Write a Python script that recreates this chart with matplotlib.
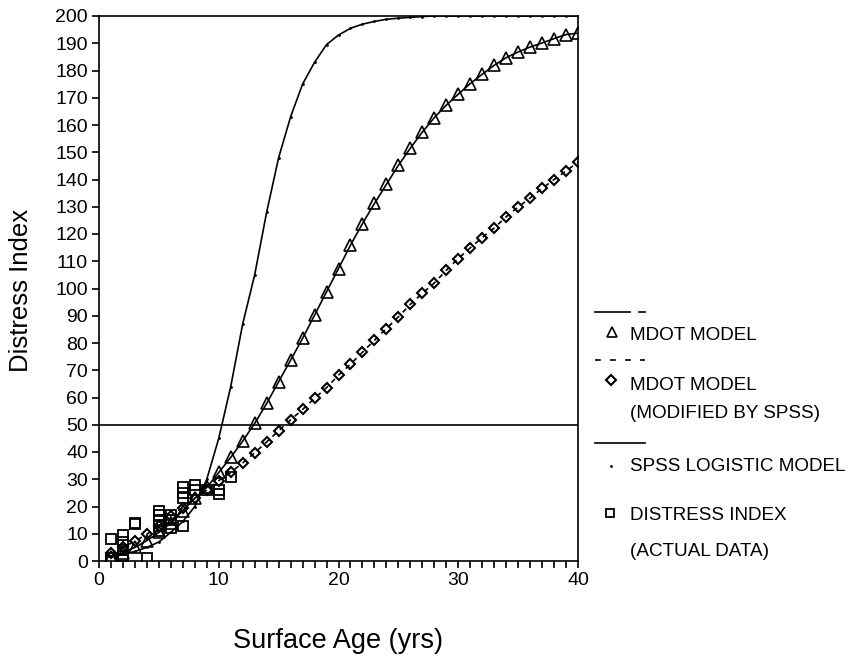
import numpy as np
import matplotlib.pyplot as plt
from matplotlib.lines import Line2D

plt.rcParams['font.family'] = ['Liberation Sans', 'DejaVu Sans']

# surface age (yrs)
age = list(range(1, 41))

# MDOT model (triangles)
mdot = [1.5, 3, 5, 7.5, 10.5, 14, 18.5, 23, 27, 32.5,
        38, 44, 50.5, 57.8, 65.8, 73.7, 81.7, 90.2, 98.8, 107.3,
        115.9, 123.8, 131.2, 138.2, 145.2, 151.5, 157.4, 162.7, 167.3, 171.3,
        175.2, 178.6, 181.9, 184.7, 186.8, 188.6, 190.1, 191.7, 193.2, 193.7]

# MDOT model modified by SPSS (diamonds)
mdot_spss = [2.8, 5, 7.3, 9.8, 13, 16.5, 19.5, 23, 26, 29.5,
             32.5, 36, 39.7, 43.7, 47.8, 51.8, 55.6, 59.7, 63.6, 68.2,
             72.2, 76.6, 81, 85.3, 89.6, 94.2, 98.2, 102, 106.7, 111,
             114.9, 118.7, 122.2, 126.3, 129.9, 133.2, 136.7, 140, 143.1, 146.4]

# SPSS logistic model
logistic = [1.8, 2.5, 3.5, 5, 7, 10.5, 14.5, 20, 30, 45,
            64, 87, 105, 128, 148, 163, 175, 183, 189.5, 193,
            195.5, 197, 198, 198.8, 199.2, 199.5, 199.8, 200, 200, 200,
            200, 200, 200, 200, 200, 200, 200, 200, 200, 200]

# actual distress index data
obs_age = [1, 1, 1, 2, 2, 2, 2, 2, 3, 3, 4, 5, 5, 5, 5, 5, 6, 6, 6,
           7, 7, 7, 7, 8, 8, 9, 10, 10, 11]
obs_di = [8, 1, 0, 9.5, 7, 4, 2, 0.5, 13.5, 14, 1, 18.5, 17, 15, 13, 11, 17, 15, 12,
          27, 25, 23, 13, 28, 26, 26, 26, 24.5, 31]

fig = plt.figure(figsize=(8.58, 6.6), dpi=100)
ax = fig.add_axes([99/858, 1-561/660, 479/858, 545/660])

ax.plot(age, logistic, '-', color='black', lw=1.2, marker='.', ms=2)
ax.plot(age, mdot, '-', color='black', lw=1.2, marker='^', ms=8,
        mfc='none', mec='black', mew=1.2)
ax.plot(age, mdot_spss, '--', color='black', lw=1.2, dashes=(3, 3), marker='D', ms=5.5,
        mfc='none', mec='black', mew=1.5)
ax.plot(obs_age, obs_di, 's', ms=6.5, mfc='none', mec='black', mew=1.3, ls='none')

ax.axhline(50, color='black', lw=1.2)

ax.set_xlim(0, 40)
ax.set_ylim(0, 200)
ax.set_xticks(range(0, 41, 10))
ax.set_xticks(range(0, 41), minor=True)
ax.set_yticks(range(0, 201, 10))
ax.tick_params(axis='both', direction='out', length=5, width=1.2, labelsize=14, colors='black', pad=3)
ax.tick_params(axis='x', which='minor', direction='out', length=5, width=1.2)
for s in ax.spines.values():
    s.set_linewidth(1.2)

fig.text(338/858, 1-641/660, 'Surface Age (yrs)', ha='center', va='center', fontsize=19.5)
fig.text(21/858, 1-290/660, 'Distress Index', ha='center', va='center', fontsize=18.5, rotation=90)

# hand-drawn legend on the right
def fy(y):
    return 1 - y/660

def fx(x):
    return x/858

fs = 13.6
fig.add_artist(Line2D([fx(595), fx(630)], [fy(311.7)]*2, color='black', lw=1.2))
fig.add_artist(Line2D([fx(639), fx(645)], [fy(311.7)]*2, color='black', lw=1.2))
fig.add_artist(Line2D([fx(611.7)], [fy(331.7)], marker='^', ms=7, mfc='none', mec='black', mew=1.2))
fig.text(fx(630), fy(335), 'MDOT MODEL', va='center', fontsize=fs)

fig.add_artist(Line2D([fx(595), fx(645)], [fy(360)]*2, color='black', lw=1.2, ls='--', dashes=(3.5, 5.5)))
fig.add_artist(Line2D([fx(610.7)], [fy(380)], marker='D', ms=5, mfc='none', mec='black', mew=1.5))
fig.text(fx(630), fy(385.7), 'MDOT MODEL', va='center', fontsize=fs)
fig.text(fx(630), fy(413), '(MODIFIED BY SPSS)', va='center', fontsize=fs)

fig.add_artist(Line2D([fx(595), fx(645)], [fy(443.3)]*2, color='black', lw=1.2))
fig.add_artist(Line2D([fx(610.7)], [fy(465.7)], marker='.', ms=2, color='black'))
fig.text(fx(630), fy(466.7), 'SPSS LOGISTIC MODEL', va='center', fontsize=fs)

fig.add_artist(Line2D([fx(610)], [fy(513.3)], marker='s', ms=6, mfc='none', mec='black', mew=1.3))
fig.text(fx(630), fy(515), 'DISTRESS INDEX', va='center', fontsize=fs)
fig.text(fx(630), fy(551.7), '(ACTUAL DATA)', va='center', fontsize=fs)

plt.savefig('out.png', dpi=100)
